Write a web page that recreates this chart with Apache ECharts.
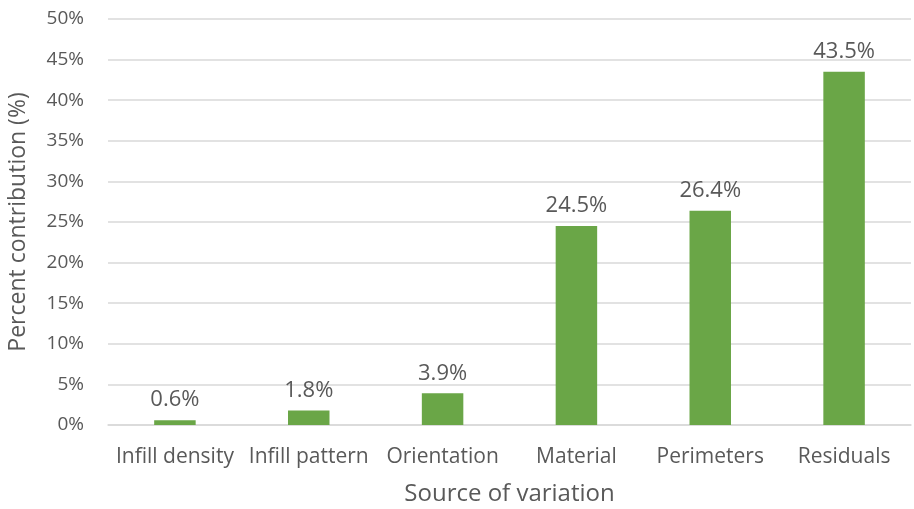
<!DOCTYPE html>
<html>
<head>
<meta charset="utf-8">
<script src="https://cdn.jsdelivr.net/npm/echarts@6/dist/echarts.min.js"></script>
<style>
  html, body { margin: 0; padding: 0; background: #fff; }
  #chart { width: 914px; height: 509px; }
</style>
</head>
<body>
<div id="chart"></div>
<script>
// Share of variation attributed to each source
const categories = ['Infill density', 'Infill pattern', 'Orientation', 'Material', 'Perimeters', 'Residuals'];
const contributions = [0.6, 1.8, 3.9, 24.5, 26.4, 43.5];
const yTicks = { min: 0, max: 50, interval: 5 };

const FONT = '"Open Sans", "Noto Sans", sans-serif';
const TEXT = '#595959';
const chart = echarts.init(document.getElementById('chart'), null, { renderer: 'canvas' });

chart.setOption({
  animation: false,
  grid: { left: 108, right: 3, top: 19, bottom: 84, outerBoundsMode: 'none', containLabel: false },
  xAxis: {
    type: 'category',
    data: categories,
    name: 'Source of variation',
    nameLocation: 'middle',
    nameGap: 57,
    nameTextStyle: { fontFamily: FONT, fontSize: 24, color: TEXT },
    axisLine: { lineStyle: { color: '#d9d9d9', width: 1.5 } },
    axisTick: { show: false },
    axisLabel: { fontFamily: FONT, fontSize: 21, color: TEXT, margin: 22, interval: 0 }
  },
  yAxis: {
    type: 'value',
    min: yTicks.min,
    max: yTicks.max,
    interval: yTicks.interval,
    name: 'Percent contribution (%)',
    nameLocation: 'middle',
    nameGap: 78,
    nameTextStyle: { fontFamily: FONT, fontSize: 23, color: TEXT },
    axisLine: { show: false },
    axisTick: { show: false },
    axisLabel: { fontFamily: FONT, fontSize: 19, color: TEXT, margin: 24, formatter: '{value}%' },
    splitLine: { lineStyle: { color: '#d9d9d9', width: 1.5 } }
  },
  series: [{
    type: 'bar',
    data: contributions,
    barWidth: '31%',
    itemStyle: { color: '#6aa647' },
    label: {
      show: true,
      position: 'top',
      distance: 9,
      fontFamily: FONT,
      fontSize: 22,
      color: TEXT,
      formatter: p => p.value.toFixed(1) + '%'
    }
  }]
});
</script>
</body>
</html>
